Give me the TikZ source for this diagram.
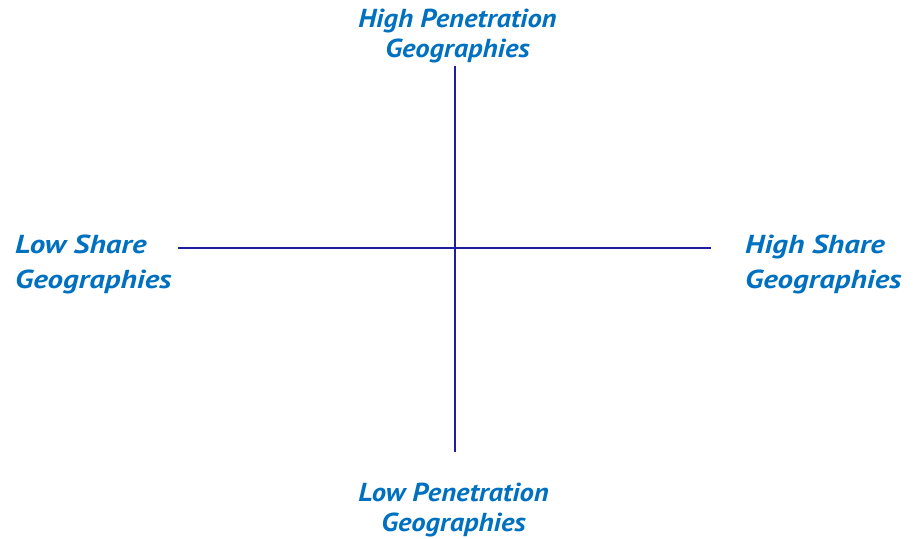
\documentclass[tikz,border=0pt]{standalone}
\usepackage{fontspec}
\setmainfont{PT Sans}
\newfontfamily\tbfont[FakeStretch=1.1]{PT Sans}
\newfontfamily\lrfont[FakeStretch=1.19]{PT Sans}
\definecolor{txtblue}{RGB}{0,112,192}
\definecolor{axisblue}{RGB}{30,30,160}
\begin{document}
\begin{tikzpicture}[x=1pt,y=-1pt,
  lbl/.style={text=txtblue,inner sep=0pt},
  tblbl/.style={lbl,align=center,anchor=base,font=\tbfont\fontsize{26}{30}\selectfont\bfseries\itshape},
  lrlbl/.style={lbl,align=left,anchor=base west,font=\lrfont\fontsize{26}{35}\selectfont\bfseries\itshape},
  axis/.style={draw=axisblue,line width=1.6pt}]
\useasboundingbox (0,0) rectangle (920,538);
\coordinate (top) at (455,66);
\coordinate (bot) at (455,452);
\coordinate (lft) at (178,248);
\coordinate (rgt) at (711,248);
\draw[axis] (top) -- (bot);
\draw[axis] (lft) -- (rgt);
\node[tblbl] (hp) at (457.5,57) {High Penetration\\Geographies};
\node[tblbl] (lp) at (453.5,531) {Low Penetration\\Geographies};
\node[lrlbl] (ls) at (15,288) {Low Share\\Geographies};
\node[lrlbl] (hs) at (745,288) {High Share\\Geographies};
\end{tikzpicture}
\end{document}
